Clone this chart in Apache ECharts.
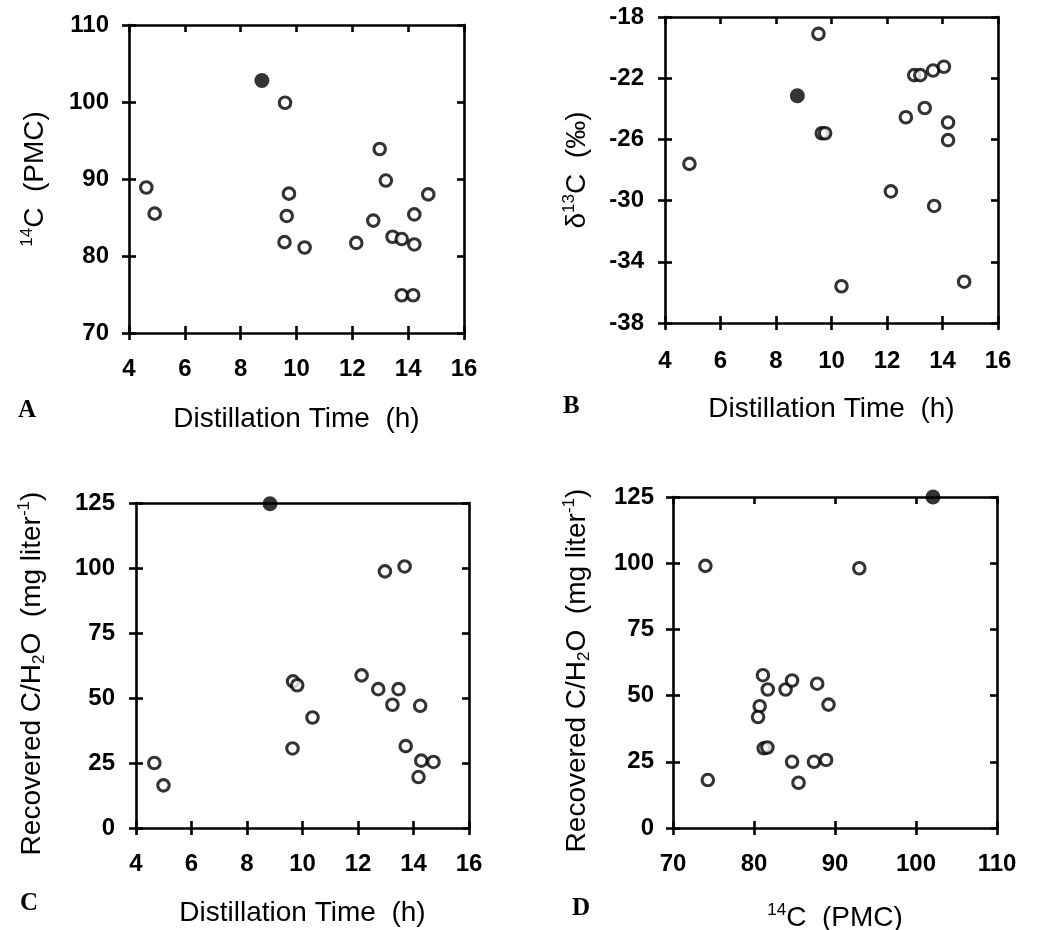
<!DOCTYPE html>
<html>
<head>
<meta charset="utf-8">
<script src="https://cdn.jsdelivr.net/npm/echarts@6/dist/echarts.min.js"></script>
<style>
html,body{margin:0;padding:0;background:#fff;}
#chart{width:1037px;height:930px;}
</style>
</head>
<body>
<div id="chart"></div>
<script>
// ---- tick labels ----
const timeTicks = [4, 6, 8, 10, 12, 14, 16];
const pmcTicks = [70, 80, 90, 100, 110];
const d13Ticks = [-38, -34, -30, -26, -22, -18];
const recTicks = [0, 25, 50, 75, 100, 125];

// ---- Panel A: 14C (PMC) vs distillation time ----
const timeA = [4.62, 4.92, 9.59, 9.73, 9.65, 9.57, 10.29, 12.14, 12.75, 12.98, 13.2, 13.44, 13.77, 14.22, 14.22, 14.72, 13.77, 14.18];
const pmcA = [88.9, 85.5, 99.9, 88.1, 85.2, 81.8, 81.1, 81.7, 84.6, 93.9, 89.8, 82.5, 82.2, 81.5, 85.4, 88.0, 74.9, 74.9];
const timeAFilled = [8.76];
const pmcAFilled = [102.8];

// ---- Panel B: d13C vs distillation time ----
const timeB = [4.88, 9.53, 9.65, 9.77, 10.36, 12.14, 12.68, 12.98, 13.2, 13.36, 13.66, 13.7, 14.05, 14.2, 14.2, 14.78];
const d13B = [-27.6, -19.1, -25.6, -25.6, -35.6, -29.4, -24.55, -21.8, -21.8, -23.95, -21.5, -30.35, -21.25, -24.9, -26.05, -35.3];
const timeBFilled = [8.77];
const d13BFilled = [-23.15];

// ---- Panel C: recovered C vs distillation time ----
const timeC = [4.66, 4.99, 9.64, 9.66, 9.81, 10.36, 12.13, 12.73, 12.97, 13.24, 13.46, 13.68, 13.72, 14.24, 14.18, 14.28, 14.72];
const recC = [25, 16.4, 30.6, 56.4, 54.9, 42.5, 58.7, 53.4, 98.7, 47.4, 53.4, 100.6, 31.5, 47, 19.6, 25.9, 25.4];
const timeCFilled = [8.83];
const recCFilled = [124.7];

// ---- Panel D: recovered C vs 14C ----
const pmcD = [74.0, 74.3, 93.0, 81.1, 81.7, 80.7, 80.5, 81.2, 81.65, 83.9, 84.7, 84.7, 85.5, 87.8, 87.4, 88.9, 89.2];
const recD = [99, 18.1, 98.1, 57.7, 52.3, 46, 41.9, 30.1, 30.4, 52.3, 55.7, 25, 17.1, 54.5, 25, 25.7, 46.6];
const pmcDFilled = [102.1];
const recDFilled = [125];

// ---- styling / layout ----
const FONT = 'Liberation Sans';
const LW = 2.6;
const TICK = 7;
const labelStyle = {fontFamily: FONT, fontWeight: 'bold', fontSize: 24, color: '#000'};
const rich = {
  b: {fontFamily: FONT, fontSize: 28, color: '#000', lineHeight: 32},
  sup: {fontFamily: FONT, fontSize: 17, color: '#000', verticalAlign: 'top', lineHeight: 17},
  sub: {fontFamily: FONT, fontSize: 17, color: '#000', verticalAlign: 'bottom', lineHeight: 17}
};
const grids = [
  {left: 129, top: 25, width: 335, height: 308},
  {left: 665, top: 17, width: 333, height: 306},
  {left: 136, top: 503, width: 333, height: 325},
  {left: 673, top: 497, width: 324, height: 331}
];

function rangeOf(ticks) {
  return {min: ticks[0], max: ticks[ticks.length - 1]};
}
function axisSet(dim, gi, ticks, name, nameGap, farTicks, labelMargin, namePad) {
  const r = rangeOf(ticks);
  const base = {type: 'value', gridIndex: gi, min: r.min, max: r.max, splitLine: {show: false}, scale: false};
  const tickStyle = {color: '#000', width: LW};
  const nearPos = dim === 'x' ? 'bottom' : 'left';
  const farPos = dim === 'x' ? 'top' : 'right';
  const main = Object.assign({}, base, {
    position: nearPos,
    axisLine: {show: true, onZero: false, lineStyle: {color: '#000', width: LW}},
    axisTick: {show: true, inside: false, length: TICK, lineStyle: tickStyle, customValues: ticks},
    axisLabel: Object.assign({show: true, margin: labelMargin, customValues: ticks}, labelStyle),
    name: name,
    nameLocation: 'middle',
    nameGap: nameGap,
    nameRotate: dim === 'x' ? 0 : 90,
    nameTextStyle: {fontFamily: FONT, fontSize: 28, color: '#000', rich: rich, padding: namePad || 0}
  });
  const inner = Object.assign({}, base, {
    position: nearPos,
    axisLine: {show: false, onZero: false},
    axisTick: {show: true, inside: true, length: TICK, lineStyle: tickStyle, customValues: ticks},
    axisLabel: {show: false}
  });
  const far = Object.assign({}, base, {
    position: farPos,
    axisLine: {show: true, onZero: false, lineStyle: {color: '#000', width: LW}},
    axisTick: {show: farTicks, inside: true, length: TICK, lineStyle: tickStyle, customValues: ticks},
    axisLabel: {show: false}
  });
  return [main, inner, far];
}

const pmcName = '{sup|14}{b|C  (PMC)}';
const d13Name = '{b|δ}{sup|13}{b|C  (‰)}';
const recName = '{b|Recovered C/H}{sub|2}{b|O  (mg liter}{sup|-1}{b|)}';
const timeName = '{b|Distillation Time  (h)}';

const xAxes = [].concat(
  axisSet('x', 0, timeTicks, timeName, 70, true, 24),
  axisSet('x', 1, timeTicks, timeName, 70, true, 26),
  axisSet('x', 2, timeTicks, timeName, 69, false, 24),
  axisSet('x', 3, pmcTicks, pmcName, 74, true, 24)
);
const yAxes = [].concat(
  axisSet('y', 0, pmcTicks, pmcName, 78, true, 20),
  axisSet('y', 1, d13Ticks, d13Name, 72, true, 21),
  axisSet('y', 2, recTicks, recName, 88, true, 21, [0, 16, 0, 0]),
  axisSet('y', 3, recTicks, recName, 80, true, 19, [0, 16, 0, 0])
);

function zip(a, b) { return a.map((v, i) => [v, b[i]]); }
function openSeries(gi, xs, ys) {
  return {type: 'scatter', xAxisIndex: gi * 3, yAxisIndex: gi * 3, data: zip(xs, ys), symbol: 'circle', symbolSize: 11.5,
    clip: false, itemStyle: {color: '#fff', borderColor: '#000', borderWidth: 3.1}, emphasis: {disabled: true}, z: 3};
}
function filledSeries(gi, xs, ys) {
  return {type: 'scatter', xAxisIndex: gi * 3, yAxisIndex: gi * 3, data: zip(xs, ys), symbol: 'circle', symbolSize: 15,
    clip: false, itemStyle: {color: '#000', borderWidth: 0}, emphasis: {disabled: true}, z: 3};
}

const letterFont = 'bold 25px "Liberation Serif"';
const option = {
  backgroundColor: '#fff',
  animation: false,
  grid: grids.map(g => Object.assign({containLabel: false, outerBoundsMode: 'none'}, g)),
  xAxis: xAxes,
  yAxis: yAxes,
  series: [
    openSeries(0, timeA, pmcA), filledSeries(0, timeAFilled, pmcAFilled),
    openSeries(1, timeB, d13B), filledSeries(1, timeBFilled, d13BFilled),
    openSeries(2, timeC, recC), filledSeries(2, timeCFilled, recCFilled),
    openSeries(3, pmcD, recD), filledSeries(3, pmcDFilled, recDFilled)
  ],
  graphic: [
    {type: 'text', left: 18, top: 398, style: {text: 'A', font: letterFont, fill: '#000'}},
    {type: 'text', left: 563, top: 394, style: {text: 'B', font: letterFont, fill: '#000'}},
    {type: 'text', left: 20, top: 891, style: {text: 'C', font: letterFont, fill: '#000'}},
    {type: 'text', left: 572, top: 896, style: {text: 'D', font: letterFont, fill: '#000'}}
  ]
};
const chart = echarts.init(document.getElementById('chart'), null, {renderer: 'canvas'});
chart.setOption(option);
</script>
</body>
</html>
